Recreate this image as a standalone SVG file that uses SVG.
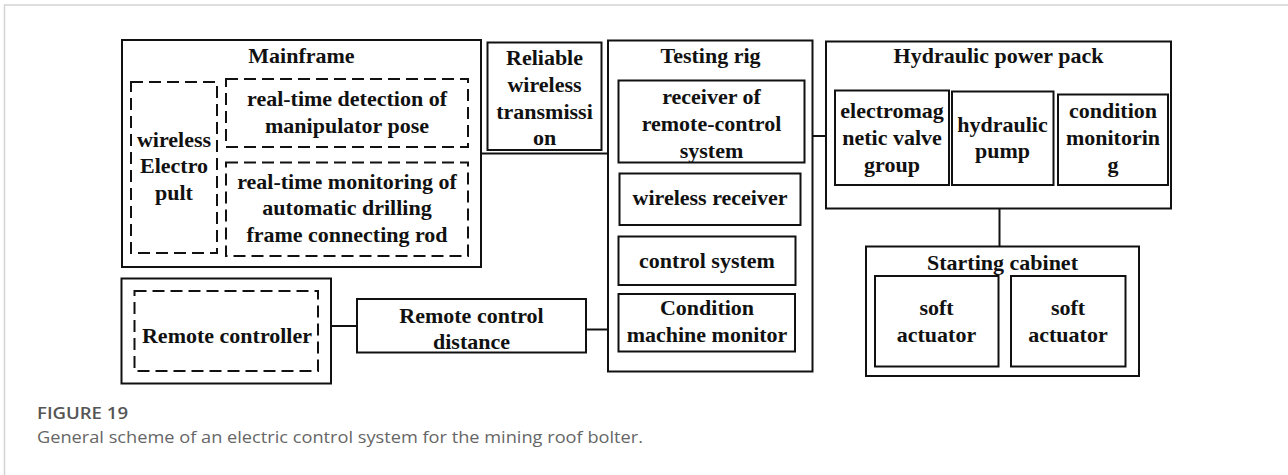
<svg xmlns="http://www.w3.org/2000/svg" width="1288" height="475" viewBox="0 0 1288 475">
  <style>
    .box { fill: none; stroke: #111; stroke-width: 2; }
    .dash { fill: none; stroke: #111; stroke-width: 2; stroke-dasharray: 12 6; }
    .wire { fill: none; stroke: #111; stroke-width: 2; }
    .t { font-family: "Liberation Serif", "Times New Roman", serif; font-weight: bold; font-size: 22px; fill: #111; text-anchor: middle; }
    .cap-h { font-family: "Open Sans", "Liberation Sans", sans-serif; font-weight: 600; font-size: 17px; fill: #555; }
    .cap { font-family: "Open Sans", "Liberation Sans", sans-serif; font-size: 17px; fill: #666; }
  </style>

  <!-- page frame -->
  <path d="M4.5 475 V5 H1288" fill="none" stroke="#d4d4d4" stroke-width="1.5"/>

  <!-- connectors -->
  <g id="connectors">
    <line class="wire" x1="481" y1="153.5" x2="608" y2="153.5"/>
    <line class="wire" x1="812.5" y1="136" x2="826" y2="136"/>
    <line class="wire" x1="999.5" y1="208.5" x2="999.5" y2="246.5"/>
    <line class="wire" x1="331" y1="326" x2="357" y2="326"/>
    <line class="wire" x1="586" y1="329.5" x2="608" y2="329.5"/>
  </g>

  <!-- Mainframe -->
  <g id="mainframe">
    <rect class="box" x="122" y="40" width="359" height="227"/>
    <text class="t" x="301.5" y="63">Mainframe</text>
    <g id="electro-pult">
      <rect class="dash" x="131" y="82" width="86" height="171"/>
      <text class="t" x="174" y="146.5">wireless</text>
      <text class="t" x="174" y="173">Electro</text>
      <text class="t" x="174" y="200">pult</text>
    </g>
    <g id="pose-detection">
      <rect class="dash" x="226" y="79" width="242" height="68"/>
      <text class="t" x="347" y="106">real-time detection of</text>
      <text class="t" x="347" y="133">manipulator pose</text>
    </g>
    <g id="rod-monitoring">
      <rect class="dash" x="226" y="162.5" width="242" height="93.5"/>
      <text class="t" x="347" y="188.5">real-time monitoring of</text>
      <text class="t" x="347" y="215">automatic drilling</text>
      <text class="t" x="347" y="242">frame connecting rod</text>
    </g>
  </g>

  <!-- Reliable wireless transmission -->
  <g id="wireless-transmission">
    <rect class="box" x="487.5" y="42.5" width="114" height="107.5"/>
    <text class="t" x="544.5" y="65">Reliable</text>
    <text class="t" x="544.5" y="92">wireless</text>
    <text class="t" x="544.5" y="118.5">transmissi</text>
    <text class="t" x="544.5" y="145">on</text>
  </g>

  <!-- Testing rig -->
  <g id="testing-rig">
    <rect class="box" x="608" y="40.5" width="204.5" height="331"/>
    <text class="t" x="710.5" y="63">Testing rig</text>
    <g id="rc-receiver">
      <rect class="box" x="618.5" y="80.5" width="186" height="82"/>
      <text class="t" x="711.5" y="104">receiver of</text>
      <text class="t" x="711.5" y="131">remote-control</text>
      <text class="t" x="711.5" y="158">system</text>
    </g>
    <g id="wireless-receiver">
      <rect class="box" x="619.5" y="173.5" width="181" height="51.5"/>
      <text class="t" x="710" y="205">wireless receiver</text>
    </g>
    <g id="control-system">
      <rect class="box" x="618.5" y="236.5" width="177" height="48.5"/>
      <text class="t" x="707" y="268">control system</text>
    </g>
    <g id="machine-monitor">
      <rect class="box" x="618.5" y="294" width="176.5" height="57.5"/>
      <text class="t" x="707" y="315">Condition</text>
      <text class="t" x="707" y="341.5">machine monitor</text>
    </g>
  </g>

  <!-- Hydraulic power pack -->
  <g id="hydraulic-power-pack">
    <rect class="box" x="826" y="41.5" width="345" height="167"/>
    <text class="t" x="998.5" y="63">Hydraulic power pack</text>
    <g id="valve-group">
      <rect class="box" x="835" y="90.5" width="114" height="94.5"/>
      <text class="t" x="892" y="117.5">electromag</text>
      <text class="t" x="892" y="145">netic valve</text>
      <text class="t" x="892" y="171.5">group</text>
    </g>
    <g id="hydraulic-pump">
      <rect class="box" x="952" y="91.5" width="101.5" height="93.5"/>
      <text class="t" x="1002.5" y="131.5">hydraulic</text>
      <text class="t" x="1002.5" y="158">pump</text>
    </g>
    <g id="condition-monitoring">
      <rect class="box" x="1058" y="94.5" width="110" height="90.5"/>
      <text class="t" x="1113" y="117.5">condition</text>
      <text class="t" x="1113" y="145">monitorin</text>
      <text class="t" x="1113" y="171.5">g</text>
    </g>
  </g>

  <!-- Starting cabinet -->
  <g id="starting-cabinet">
    <rect class="box" x="866" y="246.5" width="273" height="129.5"/>
    <text class="t" x="1002.5" y="270">Starting cabinet</text>
    <g id="soft-actuator-1">
      <rect class="box" x="875" y="276" width="123.5" height="90.5"/>
      <text class="t" x="936.5" y="315">soft</text>
      <text class="t" x="936.5" y="341.5">actuator</text>
    </g>
    <g id="soft-actuator-2">
      <rect class="box" x="1011" y="276" width="114.5" height="90.5"/>
      <text class="t" x="1068" y="315">soft</text>
      <text class="t" x="1068" y="341.5">actuator</text>
    </g>
  </g>

  <!-- Remote controller -->
  <g id="remote-controller">
    <rect class="box" x="121.5" y="278.5" width="209.5" height="105"/>
    <rect class="dash" x="134.5" y="291" width="183.5" height="80"/>
    <text class="t" x="227" y="343">Remote controller</text>
  </g>

  <!-- Remote control distance -->
  <g id="remote-distance">
    <rect class="box" x="357" y="299" width="229" height="53.5"/>
    <text class="t" x="471.5" y="322.5">Remote control</text>
    <text class="t" x="471.5" y="349">distance</text>
  </g>

  <!-- caption -->
  <g id="caption">
    <text class="cap-h" x="37" y="419" textLength="91" lengthAdjust="spacingAndGlyphs">FIGURE 19</text>
    <text class="cap" x="37" y="442.5" textLength="606" lengthAdjust="spacingAndGlyphs">General scheme of an electric control system for the mining roof bolter.</text>
  </g>
</svg>
